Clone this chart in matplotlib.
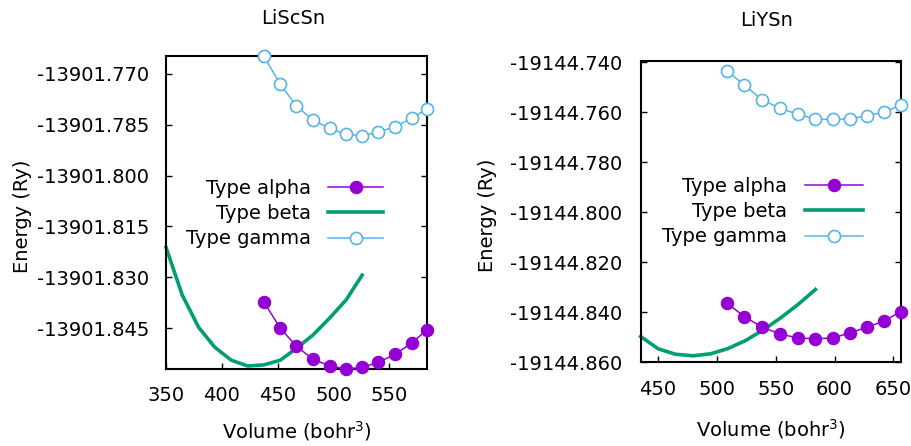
import matplotlib
matplotlib.use("Agg")
import matplotlib.pyplot as plt
from matplotlib.ticker import FixedLocator, FormatStrFormatter

plt.rcParams['font.family'] = ['DejaVu Sans']
plt.rcParams['mathtext.default'] = 'regular'

# ---------------- LiScSn ----------------
scsn_vol_ag = [437.5, 452.4, 466.7, 481.5, 496.4, 511.3, 525.6, 540.2, 555.1, 569.9, 583.7]
scsn_alpha = [-13901.83724, -13901.84510, -13901.85032, -13901.85425, -13901.85614,
              -13901.85711, -13901.85661, -13901.85514, -13901.85277, -13901.84944, -13901.84551]
scsn_gamma = [-13901.76468, -13901.77304, -13901.77945, -13901.78358, -13901.78604,
              -13901.78781, -13901.78822, -13901.78713, -13901.78556, -13901.78308, -13901.78034]
scsn_vol_b = [350.0, 364.6, 379.2, 393.8, 408.4, 423.0, 437.5, 452.4, 466.7, 481.5, 496.4, 511.3, 525.6]
scsn_beta = [-13901.8212, -13901.8353, -13901.8448, -13901.8507, -13901.8545, -13901.8562,
             -13901.8559, -13901.8545, -13901.8510, -13901.8471, -13901.8421, -13901.8367, -13901.8294]
scsn_xticks = [350, 400, 450, 500, 550]
scsn_yticks = [-13901.770, -13901.785, -13901.800, -13901.815, -13901.830, -13901.845]

# ---------------- LiYSn ----------------
ysn_vol_ag = [508.8, 523.5, 538.8, 553.8, 568.8, 583.8, 598.8, 613.2, 627.7, 642.4, 656.3]
ysn_alpha = [-19144.83643, -19144.84178, -19144.84602, -19144.84869, -19144.85029,
             -19144.85057, -19144.85029, -19144.84817, -19144.84602, -19144.84338, -19144.83979]
ysn_gamma = [-19144.7435, -19144.74933, -19144.7552, -19144.75852, -19144.76092,
             -19144.7628, -19144.76292, -19144.76268, -19144.76148, -19144.7600, -19144.7572]
ysn_vol_b = [435.3, 450.1, 465.0, 479.8, 494.7, 509.5, 524.4, 539.3, 554.1, 569.0, 583.8]
ysn_beta = [-19144.8497, -19144.8546, -19144.8568, -19144.8574, -19144.8566, -19144.8545,
            -19144.8513, -19144.8471, -19144.8423, -19144.8369, -19144.8309]
ysn_xticks = [450, 500, 550, 600, 650]
ysn_yticks = [-19144.740, -19144.760, -19144.780, -19144.800, -19144.820, -19144.840, -19144.860]

labels = ['Type alpha', 'Type beta', 'Type gamma']
c_alpha = '#9400D3'
c_beta = '#009E73'
c_gamma = '#56B4E9'
FS = 14

fig = plt.figure(figsize=(9.11, 4.46), dpi=100)
ax1 = fig.add_axes([166/911, 1-369/446, 261/911, 313/446])
ax2 = fig.add_axes([640.7/911, 1-362.3/446, 260.3/911, 301.3/446])


def draw(ax, vag, alpha, vb, beta, gamma, xlim, ylim, xt, yt, leg_anchor, hlen, xlpad, ypad):
    ax.plot(vag, alpha, '-o', color=c_alpha, lw=1.1, ms=8.7, label=labels[0], clip_on=False, zorder=3)
    ax.plot(vb, beta, '-', color=c_beta, lw=2.6, label=labels[1], clip_on=False, zorder=2)
    ax.plot(vag, gamma, '-o', color=c_gamma, lw=1.1, ms=8.7, mfc='white', mec=c_gamma, mew=1.2,
            label=labels[2], clip_on=False, zorder=3)
    ax.set_xlim(*xlim)
    ax.set_ylim(*ylim)
    ax.xaxis.set_major_locator(FixedLocator(xt))
    ax.yaxis.set_major_locator(FixedLocator(yt))
    ax.yaxis.set_major_formatter(FormatStrFormatter('%.3f'))
    ax.xaxis.set_major_formatter(FormatStrFormatter('%d'))
    ax.tick_params(direction='in', length=4.5, width=1.0, labelsize=FS, right=True, top=False)
    ax.tick_params(axis='y', pad=ypad)
    ax.tick_params(axis='x', pad=12.5)
    for s in ax.spines.values():
        s.set_linewidth(1.5)
    ax.set_xlabel('Volume (bohr$^3$)', fontsize=FS, labelpad=xlpad)
    ax.set_ylabel('Energy (Ry)', fontsize=FS)
    ax.legend(loc='center right', bbox_to_anchor=leg_anchor, frameon=False, markerfirst=False,
              fontsize=FS, borderpad=0, borderaxespad=0, handlelength=hlen,
              handletextpad=0.9, labelspacing=0.33)


draw(ax1, scsn_vol_ag, scsn_alpha, scsn_vol_b, scsn_beta, scsn_gamma,
     (350, 583.7), (-13901.8571, -13901.7647), scsn_xticks, scsn_yticks, (0.831, 0.497), 2.8, 10, 12)
draw(ax2, ysn_vol_ag, ysn_alpha, ysn_vol_b, ysn_beta, ysn_gamma,
     (435.3, 656.5), (-19144.860, -19144.7396), ysn_xticks, ysn_yticks, (0.854, 0.5005), 3.0, 13.5, 13.5)

ax1.yaxis.set_label_coords(-(166-32)/261, (369-216.7)/313)
ax2.yaxis.set_label_coords(-(640.7-497)/260.3, (362.3-215)/301.3)

fig.text(293/911, 1-18/446, 'LiScSn', ha='center', va='center', fontsize=FS)
fig.text(767/911, 1-20/446, 'LiYSn', ha='center', va='center', fontsize=FS)

fig.savefig('out.png', dpi=100)
